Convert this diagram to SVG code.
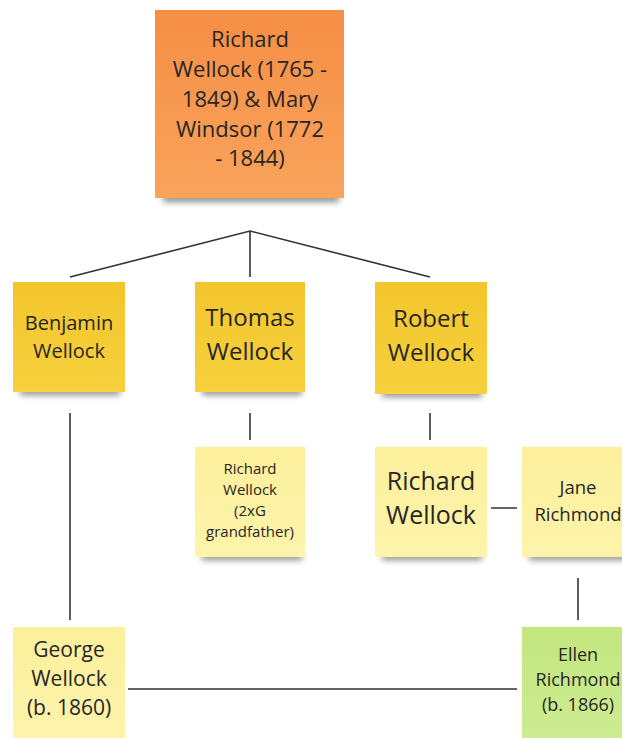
<svg xmlns="http://www.w3.org/2000/svg" width="622" height="738" viewBox="0 0 622 738">
<defs>
<linearGradient id="gOrange" x1="0" y1="0" x2="0" y2="1"><stop offset="0" stop-color="#f68e45"/><stop offset="1" stop-color="#f9a35c"/></linearGradient>
<linearGradient id="gYellow" x1="0" y1="0" x2="0" y2="1"><stop offset="0" stop-color="#f3c52c"/><stop offset="1" stop-color="#f7d13e"/></linearGradient>
<linearGradient id="gLight" x1="0" y1="0" x2="0" y2="1"><stop offset="0" stop-color="#fcf09c"/><stop offset="1" stop-color="#fdf3ab"/></linearGradient>
<linearGradient id="gGreen" x1="0" y1="0" x2="0" y2="1"><stop offset="0" stop-color="#c3e67f"/><stop offset="1" stop-color="#cdec92"/></linearGradient>
<filter id="blur" x="-20%" y="-100%" width="140%" height="300%"><feGaussianBlur stdDeviation="3"/></filter>
</defs>
<style>
text{font-family:"Open Sans","Noto Sans","Liberation Sans",sans-serif;fill:#262626;text-anchor:middle}
.sh{fill:#000;opacity:0.45;filter:url(#blur)}
.c{stroke:#333;stroke-width:1.6;fill:none}
</style>
<rect width="622" height="738" fill="#fff"/>
<g id="connectors">
<path class="c" d="M70,277 L250,231 L430,277 M250,231 L250,277"/>
<path class="c" d="M250,413 V440 M430,413 V440 M70,413 V620 M578,578 V620 M491,508 H517 M128,689 H517"/>
</g>
<g id="n-top">
<rect class="sh" x="163" y="194" width="176" height="8"/>
<rect x="155" y="10" width="189" height="188" fill="url(#gOrange)"/>
<text font-size="22"><tspan x="250" y="47">Richard</tspan><tspan x="250" y="77">Wellock (1765 -</tspan><tspan x="250" y="107">1849) &amp; Mary</tspan><tspan x="250" y="137">Windsor (1772</tspan><tspan x="250" y="166">- 1844)</tspan></text>
</g>
<g id="n-benjamin">
<rect class="sh" x="20" y="388" width="100" height="7"/>
<rect x="13" y="282" width="112" height="110" fill="url(#gYellow)"/>
<text font-size="20"><tspan x="69" y="330">Benjamin</tspan><tspan x="69" y="358">Wellock</tspan></text>
</g>
<g id="n-thomas">
<rect class="sh" x="202" y="388" width="100" height="7"/>
<rect x="195" y="282" width="110" height="110" fill="url(#gYellow)"/>
<text font-size="24"><tspan x="250" y="326">Thomas</tspan><tspan x="250" y="360">Wellock</tspan></text>
</g>
<g id="n-robert">
<rect class="sh" x="382" y="390" width="100" height="7"/>
<rect x="375" y="282" width="112" height="112" fill="url(#gYellow)"/>
<text font-size="24"><tspan x="431" y="327">Robert</tspan><tspan x="431" y="361">Wellock</tspan></text>
</g>
<g id="n-richard2xg">
<rect class="sh" x="202" y="553" width="100" height="7"/>
<rect x="195" y="447" width="110" height="110" fill="url(#gLight)"/>
<text font-size="15"><tspan x="250" y="474">Richard</tspan><tspan x="250" y="495">Wellock</tspan><tspan x="250" y="516">(2xG</tspan><tspan x="250" y="537">grandfather)</tspan></text>
</g>
<g id="n-richard">
<rect class="sh" x="382" y="553" width="100" height="7"/>
<rect x="375" y="447" width="112" height="110" fill="url(#gLight)"/>
<text font-size="25"><tspan x="431" y="490">Richard</tspan><tspan x="431" y="524">Wellock</tspan></text>
</g>
<g id="n-jane">
<rect class="sh" x="529" y="553" width="100" height="7"/>
<rect x="522" y="447" width="112" height="110" fill="url(#gLight)"/>
<text font-size="18.5"><tspan x="578" y="494">Jane</tspan><tspan x="578" y="521">Richmond</tspan></text>
</g>
<g id="n-george">
<rect x="13" y="627" width="112" height="111" fill="url(#gLight)"/>
<text font-size="21"><tspan x="69" y="657">George</tspan><tspan x="69" y="686">Wellock</tspan><tspan x="69" y="715">(b. 1860)</tspan></text>
</g>
<g id="n-ellen">
<rect x="522" y="627" width="112" height="111" fill="url(#gGreen)"/>
<text font-size="18"><tspan x="578" y="661">Ellen</tspan><tspan x="578" y="686">Richmond</tspan><tspan x="578" y="711">(b. 1866)</tspan></text>
</g>
</svg>
